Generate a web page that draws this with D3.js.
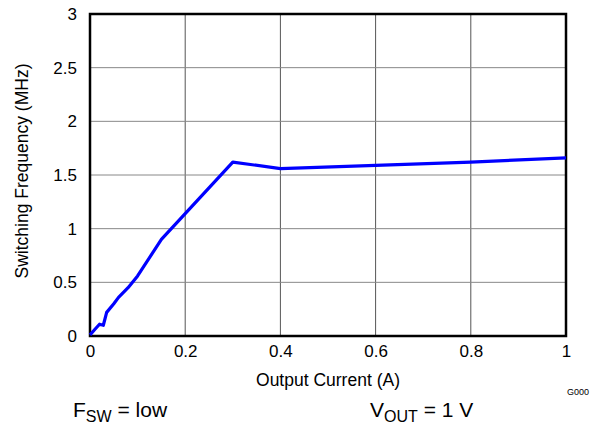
<!DOCTYPE html>
<html>
<head>
<meta charset="utf-8">
<script src="https://cdn.jsdelivr.net/npm/d3@7"></script>
<style>
  body { margin: 0; background: #fff; }
  text { font-family: "Liberation Sans", Arial, sans-serif; fill: #000; }
</style>
</head>
<body>
<div id="chart"></div>
<script>
// data
const currentA = [0, 0.01, 0.02, 0.028, 0.035, 0.05, 0.06, 0.08, 0.1, 0.15, 0.2, 0.3, 0.4, 0.6, 0.8, 1.0];
const freqMHz  = [0.01, 0.06, 0.11, 0.10, 0.22, 0.30, 0.36, 0.45, 0.56, 0.90, 1.14, 1.62, 1.56, 1.59, 1.62, 1.66];
const xTicks = [0, 0.2, 0.4, 0.6, 0.8, 1];
const yTicks = [0, 0.5, 1, 1.5, 2, 2.5, 3];

const W = 599, H = 428;
const margin = { top: 14, right: 33, bottom: 92, left: 90 },
      width  = W - margin.left - margin.right,
      height = H - margin.top - margin.bottom;

const svg = d3.select("#chart").append("svg")
  .attr("width", W).attr("height", H);
const g = svg.append("g")
  .attr("transform", `translate(${margin.left},${margin.top})`);

const x = d3.scaleLinear().domain([0, 1]).range([0, width]);
const y = d3.scaleLinear().domain([0, 3]).range([height, 0]);

// grid
g.selectAll(".vgrid").data(xTicks.slice(1, -1)).enter().append("line")
  .attr("x1", d => x(d)).attr("x2", d => x(d))
  .attr("y1", 0).attr("y2", height)
  .attr("stroke", "#555").attr("stroke-width", 1);
g.selectAll(".hgrid").data(yTicks.slice(1, -1)).enter().append("line")
  .attr("x1", 0).attr("x2", width)
  .attr("y1", d => y(d)).attr("y2", d => y(d))
  .attr("stroke", "#888").attr("stroke-width", 1);

// axes (labels only)
const xAxis = d3.axisBottom(x).tickValues(xTicks).tickSize(0).tickPadding(9)
  .tickFormat(d => d3.format("")(d));
g.append("g").attr("transform", `translate(0,${height})`).call(xAxis)
  .call(a => a.select(".domain").remove())
  .selectAll("text").style("font-size", "17px").style("font-family", "Liberation Sans, Arial, sans-serif");

const yAxis = d3.axisLeft(y).tickValues(yTicks).tickSize(0).tickPadding(13)
  .tickFormat(d => d3.format("")(d));
g.append("g").call(yAxis)
  .call(a => a.select(".domain").remove())
  .selectAll("text").style("font-size", "17px").style("font-family", "Liberation Sans, Arial, sans-serif");

// frame
g.append("rect").attr("x", 0).attr("y", 0).attr("width", width).attr("height", height)
  .attr("fill", "none").attr("stroke", "#000").attr("stroke-width", 2.5);

// curve
const line = d3.line().x((d, i) => x(currentA[i])).y(d => y(d));
g.append("path").datum(freqMHz)
  .attr("d", line)
  .attr("fill", "none").attr("stroke", "#0000ff")
  .attr("stroke-width", 3.2).attr("stroke-linejoin", "round");

// labels
svg.append("text")
  .attr("transform", `translate(27.5,171) rotate(-90)`)
  .attr("text-anchor", "middle").style("font-size", "17.5px")
  .text("Switching Frequency (MHz)");
svg.append("text")
  .attr("x", margin.left + width / 2).attr("y", 386)
  .attr("text-anchor", "middle").style("font-size", "17.5px")
  .text("Output Current (A)");
svg.append("text")
  .attr("x", 589).attr("y", 395)
  .attr("text-anchor", "end").style("font-size", "9px")
  .text("G000");

const fsw = svg.append("text").attr("x", 73).attr("y", 417).style("font-size", "21px");
fsw.append("tspan").text("F");
fsw.append("tspan").attr("dy", 4.5).style("font-size", "16px").text("SW");
fsw.append("tspan").attr("dy", -4.5).text(" = low");

const vout = svg.append("text").attr("x", 370).attr("y", 417).style("font-size", "21px");
vout.append("tspan").text("V");
vout.append("tspan").attr("dy", 4.5).style("font-size", "16px").text("OUT");
vout.append("tspan").attr("dy", -4.5).text(" = 1 V");
</script>
</body>
</html>
